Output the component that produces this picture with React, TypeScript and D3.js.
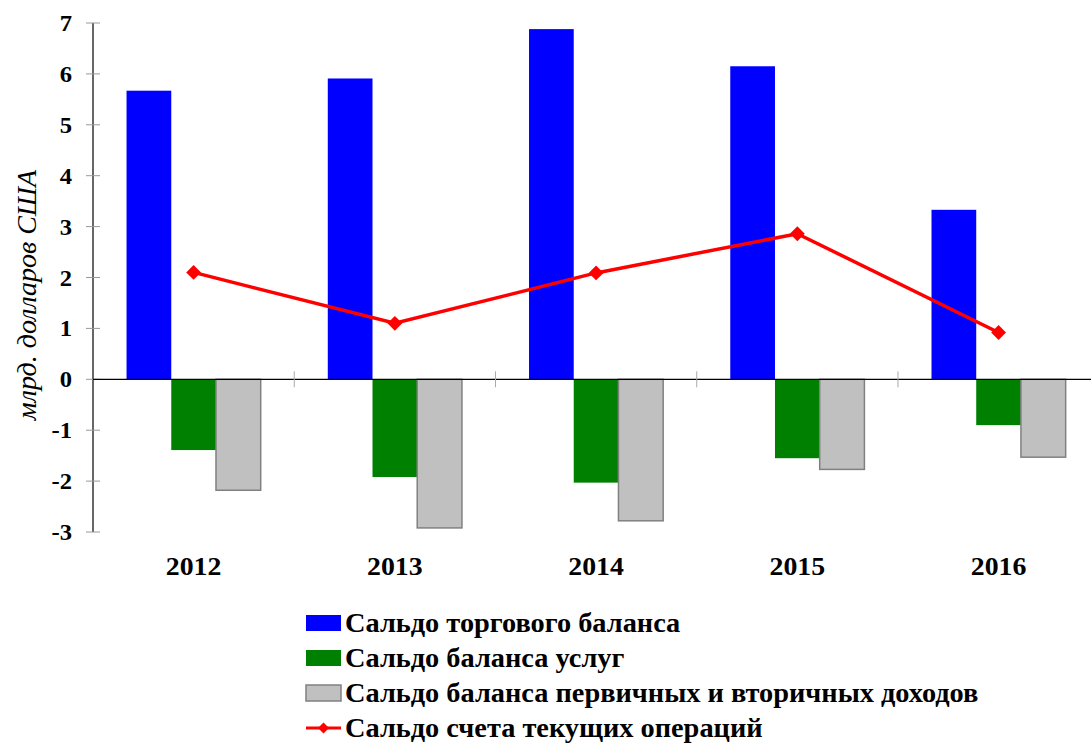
import { useMemo } from 'react';
import * as d3 from 'd3';

const years = ['2012', '2013', '2014', '2015', '2016'];
const tradeBalance = [5.67, 5.91, 6.88, 6.15, 3.33];
const servicesBalance = [-1.39, -1.92, -2.03, -1.55, -0.9];
const incomeBalance = [-2.18, -2.92, -2.78, -1.77, -1.53];
const currentAccount = [2.1, 1.1, 2.09, 2.86, 0.92];
const yTicks = [-3, -2, -1, 0, 1, 2, 3, 4, 5, 6, 7];

const barSeries = [
  { key: 'trade', label: 'Сальдо торгового баланса', values: tradeBalance, fill: '#0000FF', stroke: 'none' },
  { key: 'services', label: 'Сальдо баланса услуг', values: servicesBalance, fill: '#008000', stroke: 'none' },
  { key: 'income', label: 'Сальдо баланса первичных и вторичных доходов', values: incomeBalance, fill: '#C0C0C0', stroke: '#808080' },
];
const lineLabel = 'Сальдо счета текущих операций';

const W = 1091;
const H = 743;
const FONT = "'Liberation Serif', 'Times New Roman', Tinos, 'DejaVu Serif', serif";

export default function App() {
  const { x, xInner, y } = useMemo(() => {
    const x = d3.scaleBand<string>().domain(years).range([93, 1099.2]).paddingInner(1 / 3).paddingOuter(1 / 6);
    const xInner = d3.scaleBand<string>().domain(barSeries.map((s) => s.key)).range([0, x.bandwidth()]);
    const y = d3.scaleLinear().domain([-3, 7]).range([532, 23]);
    return { x, xInner, y };
  }, []);

  const step = x.step();
  const cx = (yr: string) => (x(yr) ?? 0) + x.bandwidth() / 2;
  const linePath = d3
    .line<number>()
    .x((_, i) => cx(years[i]))
    .y((d) => y(d))(currentAccount) ?? '';
  const diamond = d3.symbol(d3.symbolSquare, 110)() ?? '';
  const smallDiamond = d3.symbol(d3.symbolSquare, 60)() ?? '';

  const legendX = 306;
  const legendRows = [623, 658, 693, 728];
  const txt = { fontFamily: FONT };
  // the source picture is slightly stretched horizontally
  const stretch = 1.07;
  const legendStretch = 1.05;

  return (
    <svg width={W} height={H} style={{ position: 'absolute', left: 0, top: 0, display: 'block', background: '#fff' }}>
      {/* bars */}
      {barSeries.map((s) =>
        s.values.map((v, i) => {
          const x0 = (x(years[i]) ?? 0) + (xInner(s.key) ?? 0);
          const top = y(Math.max(0, v));
          const bottom = y(Math.min(0, v));
          return (
            <rect
              key={s.key + i}
              x={x0}
              y={top}
              width={xInner.bandwidth()}
              height={bottom - top}
              fill={s.fill}
              stroke={s.stroke}
              strokeWidth={s.stroke === 'none' ? 0 : 1.5}
            />
          );
        })
      )}

      {/* y axis */}
      <line x1={93} x2={93} y1={y(7)} y2={y(-3)} stroke="#000" strokeWidth={1.2} />
      {yTicks.map((t) => (
        <g key={t}>
          <line x1={86} x2={100} y1={y(t)} y2={y(t)} stroke="#999" strokeWidth={1} />
          <text
            transform={`translate(72,${y(t)}) scale(${stretch},1)`}
            dy="0.35em"
            textAnchor="end"
            style={txt}
            fontWeight="bold"
            fontSize={23}
            fill="#000"
          >
            {t}
          </text>
        </g>
      ))}

      {/* zero line + category ticks */}
      <line x1={93} x2={1099} y1={y(0)} y2={y(0)} stroke="#000" strokeWidth={1.2} />
      {years.slice(1).map((yr) => {
        const bx = (x(yr) ?? 0) - (step - x.bandwidth()) / 2;
        return <line key={yr} x1={bx} x2={bx} y1={y(0) - 8} y2={y(0) + 8} stroke="#aaa" strokeWidth={1} />;
      })}
      {years.map((yr) => (
        <text
          key={yr}
          transform={`translate(${cx(yr)},575) scale(${stretch},1)`}
          textAnchor="middle"
          style={txt}
          fontWeight="bold"
          fontSize={26}
        >
          {yr}
        </text>
      ))}

      {/* y label */}
      <text transform={`translate(36, 295) rotate(-90)`} textAnchor="middle" style={txt} fontStyle="italic" fontSize={28}>
        млрд. долларов США
      </text>

      {/* line series */}
      <path d={linePath} fill="none" stroke="#FF0000" strokeWidth={3.5} />
      {currentAccount.map((v, i) => (
        <path key={i} d={diamond} transform={`translate(${cx(years[i])},${y(v)}) rotate(45)`} fill="#FF0000" />
      ))}

      {/* legend */}
      {barSeries.map((s, i) => (
        <g key={s.key}>
          <rect
            x={legendX}
            y={legendRows[i] - 8}
            width={35}
            height={16}
            fill={s.fill}
            stroke={s.stroke === 'none' ? s.fill : s.stroke}
            strokeWidth={s.stroke === 'none' ? 0 : 1.5}
          />
          <text
            transform={`translate(${legendX + 39},${legendRows[i]}) scale(${legendStretch},1)`}
            dy="0.35em"
            style={txt}
            fontWeight="bold"
            fontSize={27}
          >
            {s.label}
          </text>
        </g>
      ))}
      <line x1={legendX} x2={legendX + 35} y1={legendRows[3]} y2={legendRows[3]} stroke="#FF0000" strokeWidth={3} />
      <path d={smallDiamond} transform={`translate(${legendX + 17.5},${legendRows[3]}) rotate(45)`} fill="#FF0000" />
      <text
        transform={`translate(${legendX + 39},${legendRows[3]}) scale(${legendStretch},1)`}
        dy="0.35em"
        style={txt}
        fontWeight="bold"
        fontSize={27}
      >
        {lineLabel}
      </text>
    </svg>
  );
}
